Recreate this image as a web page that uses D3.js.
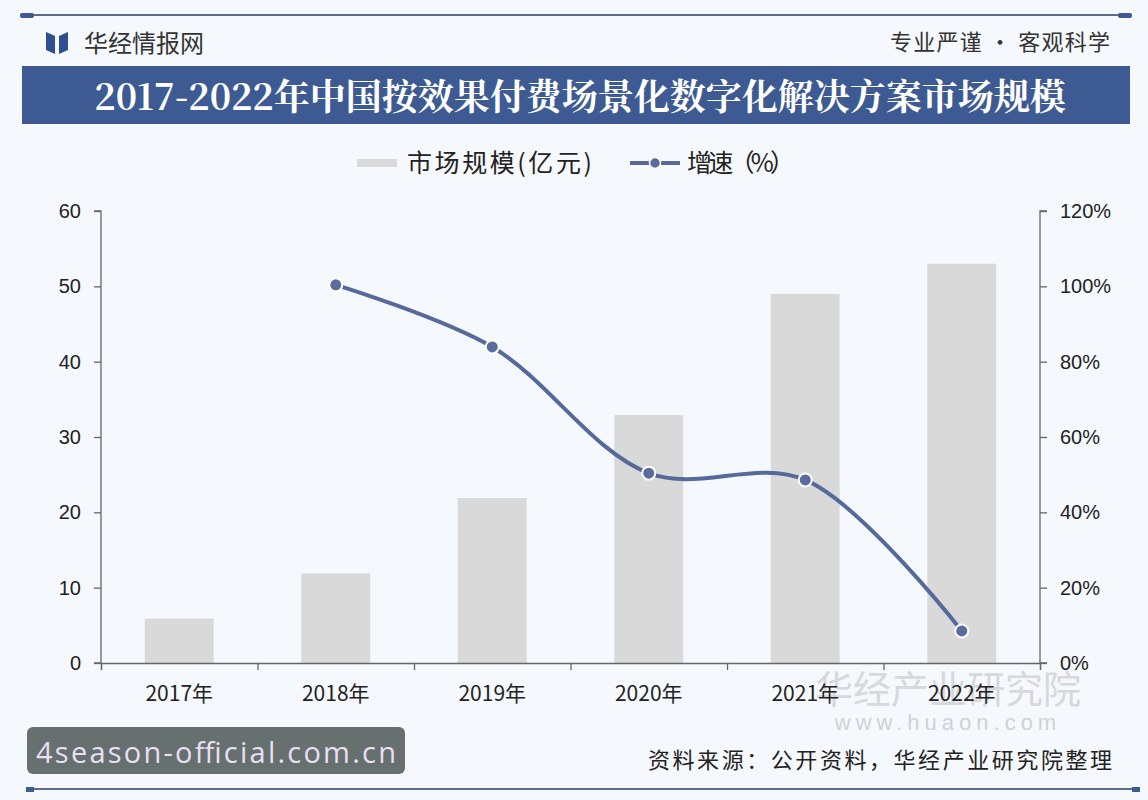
<!DOCTYPE html>
<html>
<head>
<meta charset="utf-8">
<script src="https://cdn.jsdelivr.net/npm/d3@7"></script>
<style>
  body { margin: 0; background: #f5f8fc; }
  svg { display: block; }
</style>
</head>
<body>
<div id="chart"></div>
<script>
// chart data
var years = ["2017年", "2018年", "2019年", "2020年", "2021年", "2022年"];
var marketSize = [5.9, 11.9, 21.9, 32.9, 49.0, 53.0];
var growthYears = ["2018年", "2019年", "2020年", "2021年", "2022年"];
var growthRate = [100.4, 83.9, 50.4, 48.6, 8.5];
var leftTicks = [0, 10, 20, 30, 40, 50, 60];
var rightTicks = [0, 20, 40, 60, 80, 100, 120];

var W = 1148, H = 800;
var cjk = "'Noto Sans CJK SC', 'Noto Sans', sans-serif";
var latin = "'Liberation Sans', Arial, sans-serif";

var svg = d3.select("#chart").append("svg")
    .attr("width", W)
    .attr("height", H);

svg.append("rect").attr("width", W).attr("height", H).attr("fill", "#f5f8fc");

// header rule with end caps
svg.append("line").attr("x1", 22).attr("x2", 1130).attr("y1", 15).attr("y2", 15)
    .attr("stroke", "#2c3e63").attr("stroke-width", 1.5);
svg.append("rect").attr("x", 20).attr("y", 13).attr("width", 14).attr("height", 5).attr("rx", 2).attr("fill", "#3d5a93");
svg.append("rect").attr("x", 1118).attr("y", 13).attr("width", 14).attr("height", 5).attr("rx", 2).attr("fill", "#3d5a93");

// logo
svg.append("path").attr("d", "M46,32 L55,36 L55,54 L46,50 Z").attr("fill", "#2f4f8f");
svg.append("path").attr("d", "M68,32 L59,36 L59,54 L68,50 Z").attr("fill", "#2f4f8f");
svg.append("text").attr("x", 84).attr("y", 52)
    .style("font-family", cjk).style("font-size", "24px").attr("fill", "#333")
    .text("华经情报网");
svg.append("text").attr("x", 1110).attr("y", 50).attr("text-anchor", "end")
    .style("font-family", cjk).style("font-size", "22px").attr("fill", "#333")
    .attr("textLength", 220)
    .text("专业严谨 • 客观科学");

// title band
svg.append("rect").attr("x", 22).attr("y", 66).attr("width", 1108).attr("height", 58).attr("fill", "#3d5a93");
svg.append("text").attr("x", 580).attr("y", 110).attr("text-anchor", "middle")
    .style("font-family", "'Noto Serif CJK SC', " + cjk).style("font-size", "36px").style("font-weight", "bold")
    .attr("fill", "#fff")
    .text("2017-2022年中国按效果付费场景化数字化解决方案市场规模");

// background watermark
svg.append("text").attr("x", 948).attr("y", 703).attr("text-anchor", "middle")
    .style("font-family", cjk).style("font-size", "38px").attr("fill", "#d6d8dc")
    .text("华经产业研究院");
svg.append("text").attr("x", 948).attr("y", 730).attr("text-anchor", "middle")
    .style("font-family", latin).style("font-size", "22px").style("letter-spacing", "5px").attr("fill", "#d0d2d6")
    .text("www.huaon.com");

// scales
var margin = {left: 101, right: 1040, top: 211, bottom: 663};
var x = d3.scaleBand().domain(years).range([margin.left, margin.right]).paddingInner(0.56).paddingOuter(0.28);
var yL = d3.scaleLinear().domain([0, 60]).range([margin.bottom, margin.top]);
var yR = d3.scaleLinear().domain([0, 120]).range([margin.bottom, margin.top]);

// bars
svg.selectAll(".bar")
    .data(marketSize)
    .enter()
    .append("rect")
    .attr("class", "bar")
    .attr("x", function(d, i){ return x(years[i]); })
    .attr("y", function(d){ return yL(d); })
    .attr("width", x.bandwidth())
    .attr("height", function(d){ return yL(0) - yL(d); })
    .attr("fill", "#d9d9d9");

// axes
var axisColor = "#666";
var leftAxis = svg.append("g").attr("transform", "translate(" + margin.left + ",0)")
    .call(d3.axisLeft(yL).tickValues(leftTicks).tickSize(7).tickPadding(13));
var rightAxis = svg.append("g").attr("transform", "translate(" + margin.right + ",0)")
    .call(d3.axisRight(yR).tickValues(rightTicks).tickSize(7).tickPadding(13).tickFormat(function(d){ return d + "%"; }));

// x axis with ticks at category boundaries
var xBoundaries = d3.scaleLinear().domain([0, years.length]).range([margin.left, margin.right]);
var bottomAxis = svg.append("g").attr("transform", "translate(0," + margin.bottom + ")")
    .call(d3.axisBottom(xBoundaries).tickValues(d3.range(years.length + 1)).tickSize(7).tickFormat(""));

[leftAxis, rightAxis, bottomAxis].forEach(function(g){
    g.select(".domain").attr("stroke", axisColor).attr("stroke-width", 1.3);
    g.selectAll(".tick line").attr("stroke", axisColor).attr("stroke-width", 1.3);
    g.selectAll(".tick text").style("font-family", latin).style("font-size", "20px").attr("fill", "#222");
});
rightAxis.select(".domain").attr("d", "M7," + margin.top + "H0V" + margin.bottom + "H7");
leftAxis.select(".domain").attr("d", "M-7," + margin.top + "H0V" + margin.bottom + "H-7");

svg.selectAll(".xlabel")
    .data(years)
    .enter()
    .append("text")
    .attr("class", "xlabel")
    .attr("x", function(d){ return x(d) + x.bandwidth() / 2; })
    .attr("y", 701)
    .attr("text-anchor", "middle")
    .style("font-family", cjk).style("font-size", "21px").attr("fill", "#222")
    .text(function(d){ return d; });

// growth line
var pts = growthRate.map(function(v, i){
    return [x(growthYears[i]) + x.bandwidth() / 2, yR(v)];
});
var line = d3.line().curve(d3.curveCatmullRom.alpha(0.5));
svg.append("path")
    .attr("d", line(pts))
    .attr("fill", "none")
    .attr("stroke", "#56699b")
    .attr("stroke-width", 4);
svg.selectAll(".dot")
    .data(pts)
    .enter()
    .append("circle")
    .attr("class", "dot")
    .attr("cx", function(d){ return d[0]; })
    .attr("cy", function(d){ return d[1]; })
    .attr("r", 6.5)
    .attr("fill", "#5a6c9e")
    .attr("stroke", "#fff")
    .attr("stroke-width", 2);

// legend
svg.append("rect").attr("x", 357).attr("y", 159).attr("width", 40).attr("height", 8).attr("fill", "#d9d9d9");
svg.append("text").attr("x", 407).attr("y", 172)
    .style("font-family", cjk).style("font-size", "25px").attr("fill", "#222")
    .attr("textLength", 185)
    .text("市场规模(亿元)");
svg.append("line").attr("x1", 630).attr("x2", 680).attr("y1", 163).attr("y2", 163)
    .attr("stroke", "#56699b").attr("stroke-width", 4);
svg.append("circle").attr("cx", 655).attr("cy", 163).attr("r", 5.5)
    .attr("fill", "#5a6c9e").attr("stroke", "#fff").attr("stroke-width", 1.5);
svg.append("text").attr("x", 687).attr("y", 172)
    .style("font-family", cjk).style("font-size", "25px").attr("fill", "#222")
    .attr("textLength", 108)
    .text("增速（%）");

// footer
svg.append("rect").attr("x", 27).attr("y", 727).attr("width", 378).attr("height", 47).attr("rx", 6).attr("fill", "#66706f");
svg.append("text").attr("x", 36).attr("y", 763)
    .style("font-family", "'Open Sans', " + latin).style("font-size", "29px").attr("fill", "#eadff5")
    .attr("textLength", 360)
    .text("4season-official.com.cn");
svg.append("text").attr("x", 1112).attr("y", 768).attr("text-anchor", "end")
    .style("font-family", cjk).style("font-size", "22px").attr("fill", "#222")
    .attr("textLength", 464)
    .text("资料来源：公开资料，华经产业研究院整理");
svg.append("line").attr("x1", 28).attr("x2", 1138).attr("y1", 789).attr("y2", 789)
    .attr("stroke", "#2c3e63").attr("stroke-width", 1.5);
svg.append("rect").attr("x", 26).attr("y", 787).attr("width", 8).attr("height", 5).attr("fill", "#3d5a93");
svg.append("rect").attr("x", 1132).attr("y", 787).attr("width", 8).attr("height", 5).attr("fill", "#3d5a93");
</script>
</body>
</html>
